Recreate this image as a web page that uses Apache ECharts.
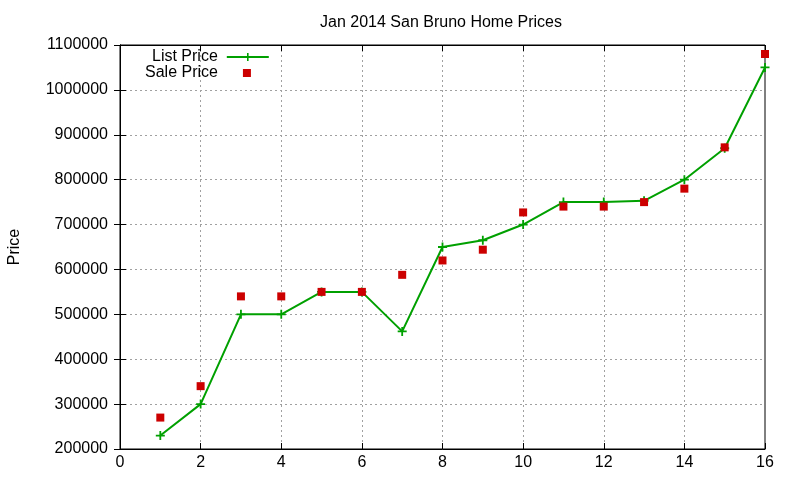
<!DOCTYPE html>
<html><head><meta charset="utf-8">
<script src="https://cdn.jsdelivr.net/npm/echarts@6/dist/echarts.min.js"></script>
<style>html,body{margin:0;padding:0;background:#fff}#c{width:800px;height:480px}</style>
</head><body><div id="c"></div>
<script>
var xValues = [1,2,3,4,5,6,7,8,9,10,11,12,13,14,15,16];
var listPrices = [230000,300000,500000,500000,550000,550000,462000,650000,665000,700000,750000,750000,753000,800000,870000,1050000];
var salePrices = [270000,340000,540000,540000,550000,550000,588000,620000,644000,727000,740000,740000,750000,780000,872000,1080000];

var listData = xValues.map(function(x,i){return [x,listPrices[i]];});
var saleData = xValues.map(function(x,i){return [x,salePrices[i]];});
var cross = 'path://M0,4H10V6H0Z M4,0H6V10H4Z';
var font = 'Liberation Sans, Arial, sans-serif';
var tickStyle = {inside:true,length:6,lineStyle:{color:'#000'}};
var gridLine = {show:true,showMinLine:false,showMaxLine:false,lineStyle:{type:[2,3],color:'#a0a0a0',width:1}};

var chart = echarts.init(document.getElementById('c'), null, {renderer:'canvas'});
chart.setOption({
  animation:false,
  title:{text:'Jan 2014 San Bruno Home Prices', left:436, top:10, textAlign:'center',
    textStyle:{fontFamily:font,fontSize:16,fontWeight:'normal',color:'#000'}},
  legend:[
    {orient:'vertical', left:152, top:49, align:'right', padding:0, itemWidth:42, itemHeight:10,
      textStyle:{fontFamily:font,fontSize:16,color:'#000',padding:[0,4,0,0]},
      data:[{name:'List Price'}]},
    {orient:'vertical', left:145, top:65, align:'right', padding:0, itemWidth:8, itemHeight:8,
      textStyle:{fontFamily:font,fontSize:16,color:'#000',padding:[0,20,0,0]},
      data:[{name:'Sale Price', icon:'rect'}]}
  ],
  grid:{left:120, right:35, top:45, bottom:31, show:true, borderColor:'#000', borderWidth:1,
    containLabel:false, outerBoundsMode:'none'},
  xAxis:[{type:'value', min:0, max:16, interval:2, position:'bottom',
      axisLine:{show:true,lineStyle:{color:'#000'}},
      axisTick:tickStyle,
      axisLabel:{fontFamily:font,fontSize:16,color:'#000',margin:6},
      splitLine:gridLine},
    {type:'value', min:0, max:16, interval:2, position:'top',
      axisLine:{show:true,lineStyle:{color:'#000'}},
      axisTick:tickStyle, axisLabel:{show:false}, splitLine:{show:false}}],
  yAxis:[{type:'value', min:200000, max:1100000, interval:100000, position:'left',
      name:'Price', nameLocation:'middle', nameGap:97, nameRotate:90,
      nameTextStyle:{fontFamily:font,fontSize:16,color:'#000'},
      axisLine:{show:true,lineStyle:{color:'#000'}},
      axisTick:tickStyle,
      axisLabel:{fontFamily:font,fontSize:16,color:'#000',margin:12,formatter:function(v){return String(v);}},
      splitLine:gridLine},
    {type:'value', min:200000, max:1100000, interval:100000, position:'right',
      axisLine:{show:true,lineStyle:{color:'#000'}},
      axisTick:tickStyle, axisLabel:{show:false}, splitLine:{show:false}}],
  series:[
    {name:'List Price', type:'line', data:listData, xAxisIndex:0, yAxisIndex:0,
      symbol:cross, symbolSize:9, showAllSymbol:true,
      lineStyle:{color:'#00a000',width:2}, itemStyle:{color:'#00a000'}, z:2},
    {name:'Sale Price', type:'scatter', data:saleData, xAxisIndex:0, yAxisIndex:0,
      symbol:'rect', symbolSize:8, itemStyle:{color:'#cc0000',opacity:1}, z:3}
  ]
});
</script></body></html>
